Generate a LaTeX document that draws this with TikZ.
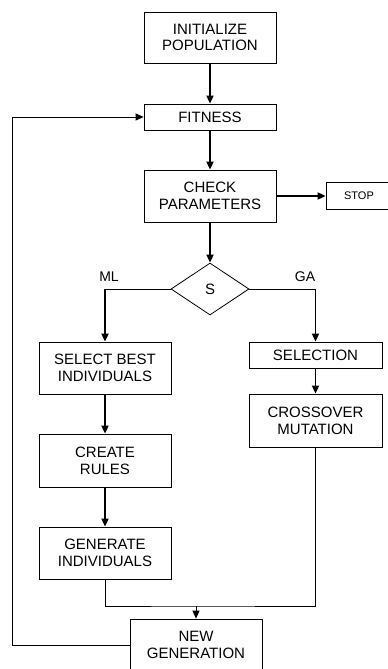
\documentclass[tikz,border=0pt]{standalone}
\usepackage{fontspec}
\setmainfont{Liberation Sans}
\usetikzlibrary{shapes.geometric,arrows.meta}
\tikzstyle{bx}=[shape=rectangle,
                draw=black,
                align=center,
                inner sep=0pt,
                minimum width=132pt,
                line width=0.8pt,
                font=\fontsize{15}{16.7}\selectfont]
\tikzstyle{dc}=[shape=diamond,
                draw=black,
                inner sep=0pt,
                minimum width=78pt,
                minimum height=52pt,
                line width=0.8pt,
                font=\fontsize{15}{17}\selectfont]
\tikzstyle{lb}=[font=\fontsize{14}{16}\selectfont]
\tikzstyle{ar}=[line width=1.8pt]
\tikzstyle{ln}=[line width=0.8pt]

\begin{document}
\begin{tikzpicture}[x=1pt,y=-1pt,>={Triangle[length=8pt,width=7pt]}]
\useasboundingbox (0,0) rectangle (388,669);

\node[bx,minimum height=51pt] (init) at (210,37.5) {INITIALIZE\\POPULATION};
\node[bx,minimum height=26pt] (fit)  at (210,117)  {FITNESS};
\node[bx,minimum height=52pt] (chk)  at (210,196)  {CHECK\\PARAMETERS};
\node[bx,minimum width=66pt,minimum height=27pt,
      font=\fontsize{11}{13}\selectfont] (stp) at (359,196) {STOP};
\node[dc] (s) at (210,289) {S};

% ML branch
\node[bx,minimum height=52pt] (sb) at (105,368)   {SELECT BEST\\INDIVIDUALS};
\node[bx,minimum height=53pt] (cr) at (105,460.5) {CREATE\\RULES};
\node[bx,minimum height=52pt] (gi) at (105,553)   {GENERATE\\INDIVIDUALS};

% GA branch
\node[bx,minimum width=133pt,minimum height=26pt] (sel) at (315.5,355)   {SELECTION};
\node[bx,minimum width=133pt,minimum height=53pt] (cm)  at (315.5,420.5) {CROSSOVER\\MUTATION};

\node[bx,minimum height=52pt] (ng) at (196,645) {NEW\\GENERATION};

\node[lb] (mllb) at (109,277) {ML};
\node[lb] (galb) at (305,277) {GA};

\coordinate (ml) at (105,289);
\coordinate (ga) at (315.5,289);
\coordinate (mg) at (196,606);
\coordinate (lp) at (12,117);

\path[->,ar] (init) edge (fit)
             (fit)  edge (chk)
             (chk)  edge (stp)
             (chk)  edge (s)

             (ml)   edge (sb)
             (sb)   edge (cr)
             (cr)   edge (gi)

             (ga)   edge (sel)
             (sel)  edge (cm);

\draw[ln] (s.west) -- (ml);
\draw[ln] (s.east) -- (ga);
\draw[ln] (gi.south) |- (mg) -| (cm.south);
\draw[ln,->] (mg) -- (ng);
\draw[ln,->] (ng.west) -| (lp) -- (fit.west);
\end{tikzpicture}
\end{document}
